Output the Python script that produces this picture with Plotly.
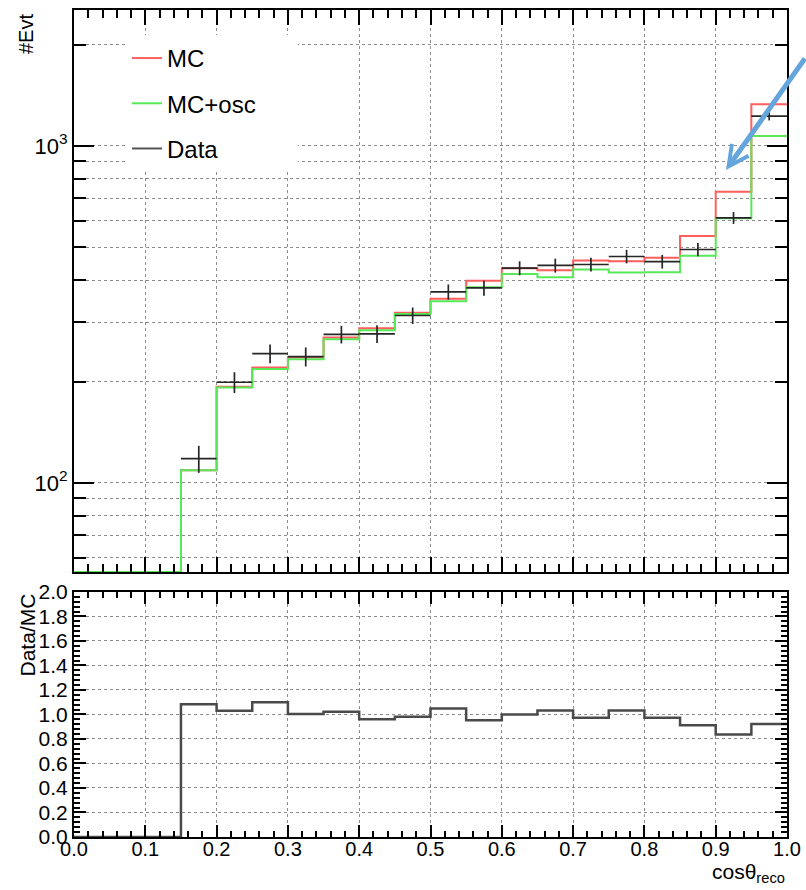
import numpy as np
import plotly.graph_objects as go

# cos(theta_reco) binning: 20 bins of width 0.05
bin_edges = np.round(np.linspace(0.0, 1.0, 21), 3)

# Event counts per bin
mc = [0, 0, 0, 109, 193, 220, 236, 270, 288, 320,
      352, 398, 434, 428, 457, 455, 466, 541, 732, 1330]
mc_osc = [0, 0, 0, 109, 192, 218, 233, 267, 284, 317,
          346, 381, 417, 408, 430, 421, 422, 472, 610, 1071]
data = [0, 0, 0, 118, 199, 242, 237, 276, 277, 314,
        369, 379, 434, 442, 445, 470, 454, 493, 612, 1226]

legend_names = ["MC", "MC+osc", "Data"]
y_log_range = [1.7356, 3.4036]

mc = np.array(mc, dtype=float)
mc_osc = np.array(mc_osc, dtype=float)
data = np.array(data, dtype=float)
centers = 0.5 * (bin_edges[:-1] + bin_edges[1:])
half_w = 0.5 * np.diff(bin_edges)
ratio = np.where(mc > 0, data / np.where(mc > 0, mc, 1), 0.0)

# empty bins sit on the lower edge of the log axis
floor = 10 ** y_log_range[0]


def step_y(vals, on_log=False):
    v = np.where(vals > 0, vals, floor) if on_log else vals
    return list(v) + [v[-1]]


RED = "#ff5e5e"
GREEN = "#58e858"
DARK = "#262626"
FONT = "Liberation Sans, Arial, Helvetica, sans-serif"

fig = go.Figure()

fig.add_trace(go.Scatter(
    x=bin_edges, y=step_y(mc, True), mode="lines", line_shape="hv",
    line=dict(color=RED, width=2), name=legend_names[0],
    legendgroup="g1", xaxis="x", yaxis="y"))
fig.add_trace(go.Scatter(
    x=bin_edges, y=step_y(mc_osc, True), mode="lines", line_shape="hv",
    line=dict(color=GREEN, width=2), name=legend_names[1],
    legendgroup="g2", xaxis="x", yaxis="y"))

# data points: horizontal bin-width bar + Poisson vertical error
mask = data > 0
fig.add_trace(go.Scatter(
    x=centers[mask], y=data[mask], mode="markers",
    marker=dict(size=1, color=DARK),
    error_x=dict(type="data", array=half_w[mask], width=0, thickness=1.7, color=DARK),
    error_y=dict(type="data", array=np.sqrt(data[mask]), width=0, thickness=1.7, color=DARK),
    showlegend=False, xaxis="x", yaxis="y"))
# legend entry for the data drawn as a line
fig.add_trace(go.Scatter(
    x=[None], y=[None], mode="lines", line=dict(color="#555555", width=2),
    name=legend_names[2], legendgroup="g3", xaxis="x", yaxis="y"))

# Data/MC ratio
fig.add_trace(go.Scatter(
    x=bin_edges, y=step_y(ratio), mode="lines", line_shape="hv",
    line=dict(color="#4a4a4a", width=2.5), showlegend=False,
    xaxis="x2", yaxis="y2"))

grid = dict(showgrid=True, gridcolor="#8c8c8c", gridwidth=1, griddash="dot")
frame = dict(showline=True, linecolor="black", linewidth=2, mirror="ticks",
             ticks="inside", tickcolor="black", zeroline=False, automargin=False)

top_domain = [0.3204, 1.0]
bot_domain = [0.0, 0.2963]

log_minor = [60, 70, 80, 90, 200, 300, 400, 500, 600, 700, 800, 900, 2000]

fig.update_layout(
    width=806, height=890,
    margin=dict(l=74, r=19, t=10, b=53, autoexpand=False),
    paper_bgcolor="white", plot_bgcolor="white",
    font=dict(family=FONT, color="black", size=20),
    xaxis=dict(domain=[0, 1], anchor="y", range=[0, 1], dtick=0.1,
               showticklabels=False, ticklen=15, tickwidth=1.5,
               minor=dict(dtick=0.02, ticks="inside", ticklen=8, tickcolor="black",
                          showgrid=False),
               **grid, **frame),
    yaxis=dict(domain=top_domain, anchor="x", type="log", range=y_log_range,
               tickmode="array", tickvals=[100, 1000],
               ticktext=["10<sup>2</sup>", "10<sup>3</sup>"],
               tickfont=dict(size=22), ticklen=20, tickwidth=1.5,
               minor=dict(tickmode="array", tickvals=log_minor, ticks="inside",
                          ticklen=12, tickcolor="black", showgrid=True,
                          gridcolor="#8c8c8c", griddash="dot"),
               **grid, **frame),
    xaxis2=dict(domain=[0, 1], anchor="y2", range=[0, 1], dtick=0.1,
                tickformat=".1f", tickfont=dict(size=20), ticklen=12, tickwidth=1.5,
                ticklabelstandoff=-7,
                minor=dict(dtick=0.02, ticks="inside", ticklen=6, tickcolor="black",
                           showgrid=False),
                **grid, **frame),
    yaxis2=dict(domain=bot_domain, anchor="x2", range=[0, 2.0], dtick=0.2,
                tickformat=".1f", tickfont=dict(size=21), ticklen=12, tickwidth=1.5,
                minor=dict(dtick=0.04, ticks="inside", ticklen=6, tickcolor="black",
                           showgrid=False),
                **grid, **frame),
    legend=dict(x=0.0743, y=0.9686, xanchor="left", yanchor="top",
                bgcolor="rgba(0,0,0,0)", borderwidth=0,
                font=dict(size=24, family=FONT), tracegroupgap=11,
                itemwidth=30),
    showlegend=True,
)

# white legend pad over the grid
fig.add_shape(type="rect", xref="paper", yref="paper",
              x0=0.0743, x1=0.314, y0=0.8065, y1=0.9698,
              fillcolor="white", line=dict(width=0), layer="above")

# axis titles
fig.add_annotation(text="#Evt", xref="paper", yref="paper", x=-0.0673, y=0.9976,
                   xanchor="center", yanchor="top", textangle=-90, showarrow=False,
                   font=dict(size=20))
fig.add_annotation(text="Data/MC", xref="paper", yref="paper", x=-0.0659, y=0.2963,
                   xanchor="center", yanchor="top", textangle=-90, showarrow=False,
                   font=dict(size=21))
fig.add_annotation(text="cosθ<sub>reco</sub>", xref="paper", yref="paper", x=1.0,
                   y=-0.0250, xanchor="right", yanchor="top", showarrow=False,
                   font=dict(size=21))

# pointer arrow towards the 0.90-0.95 bin
fig.add_annotation(text="", xref="paper", yref="paper", x=0.9144, y=0.8065,
                   ax=85, ay=-113, showarrow=True, arrowhead=5, arrowsize=0.8,
                   arrowwidth=5, arrowcolor="#64a6dc")

fig.write_html("out.html")
